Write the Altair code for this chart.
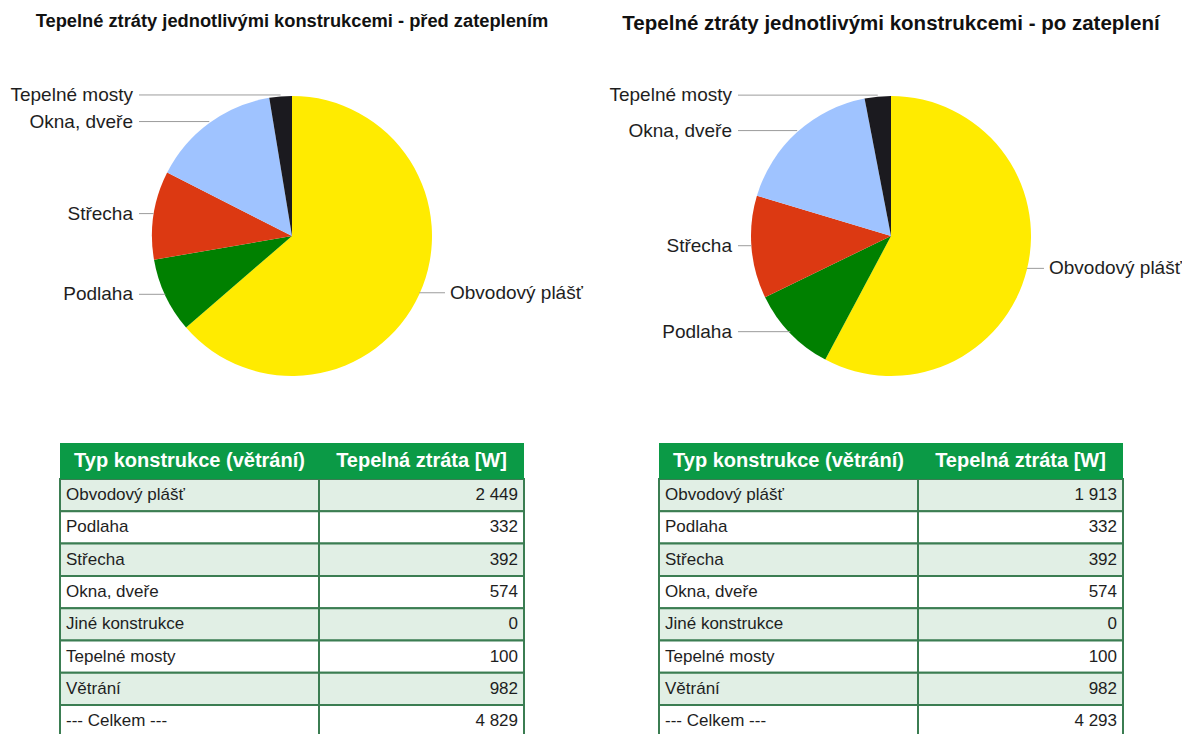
import altair as alt
import pandas as pd

# ---------------- data ----------------
title_before = "Tepelné ztráty jednotlivými konstrukcemi - před zateplením"
title_after = "Tepelné ztráty jednotlivými konstrukcemi - po zateplení"
header_labels = ["Typ konstrukce (větrání)", "Tepelná ztráta [W]"]
row_labels = ["Obvodový plášť", "Podlaha", "Střecha", "Okna, dveře",
              "Jiné konstrukce", "Tepelné mosty", "Větrání", "--- Celkem ---"]
loss_before = [2449, 332, 392, 574, 0, 100, 982, 4829]
loss_after = [1913, 332, 392, 574, 0, 100, 982, 4293]
pie_labels = ["Obvodový plášť", "Podlaha", "Střecha", "Okna, dveře", "Tepelné mosty"]
pie_colors = ["#ffeb00", "#008000", "#dc3912", "#9fc3ff", "#1b1a1f"]

# ---------------- layout / style ----------------
FONT = "Liberation Sans, Arial, sans-serif"
CX, CY, R = 292, 236, 140
PIE_H = 479
TX0, TXM, TX1 = 60, 319, 524
ROW_H = 32.3
HEADER_H = 36
HEADER_GREEN = "#0b9a46"
LIGHT = "#e1efe5"
BORDER = "#3b7d52"
TEXT = "#1e1e1e"


def panel(title, values, width, title_size, title_y):
    df_rows = pd.DataFrame({"label": row_labels, "value": values,
                            "idx": list(range(len(row_labels)))})
    df_pie = df_rows[df_rows["label"].isin(pie_labels)].copy()
    df_pie["order"] = [pie_labels.index(l) for l in df_pie["label"]]

    arc = alt.Chart(df_pie).mark_arc(outerRadius=R).encode(
        theta=alt.Theta("value:Q", stack=True),
        color=alt.Color("label:N", scale=alt.Scale(domain=pie_labels, range=pie_colors), legend=None),
        order=alt.Order("order:Q"),
        x=alt.value(CX), y=alt.value(CY),
    )

    base = alt.Chart(df_pie).transform_joinaggregate(
        total="sum(value)"
    ).transform_window(
        cum="sum(value)", sort=[alt.SortField("order")]
    ).transform_calculate(
        mid="(datum.cum - datum.value/2) / datum.total * 2 * PI",
        px=f"{CX} + {R} * sin(datum.mid)",
        py=f"{CY} - {R} * cos(datum.mid) - 1.5",
        right=f"datum.px > {CX} ? 1 : 0",
        lx=f"datum.right == 1 ? {CX + 153} : {CX - 153}",
    )

    rules = base.mark_rule(color="#9c9c9c", strokeWidth=1).encode(
        x=alt.X("px:Q", scale=None), x2="lx:Q", y=alt.Y("py:Q", scale=None)
    )
    lab_left = base.transform_filter("datum.right == 0").mark_text(
        align="right", baseline="middle", font=FONT, fontSize=19, color=TEXT
    ).encode(x=alt.value(CX - 159), y=alt.Y("py:Q", scale=None), text="label:N")
    lab_right = base.transform_filter("datum.right == 1").mark_text(
        align="left", baseline="middle", font=FONT, fontSize=19, color=TEXT
    ).encode(x=alt.value(CX + 158), y=alt.Y("py:Q", scale=None), text="label:N")

    title_mark = alt.Chart(pd.DataFrame({"t": [title]})).mark_text(
        align="center", baseline="middle", font=FONT, fontSize=title_size,
        fontWeight="bold", color="#111111"
    ).encode(x=alt.value(CX), y=alt.value(title_y), text="t:N")

    pie = alt.layer(arc, rules, lab_left, lab_right, title_mark).properties(
        width=width, height=PIE_H)

    # ---------- table ----------
    tbase = alt.Chart(df_rows).transform_calculate(
        stripe="datum.idx % 2 == 0 ? 'a' : 'b'",
        txt="replace(format(datum.value, ','), ',', ' ')",
    )
    yenc = alt.Y("label:N", scale=alt.Scale(domain=row_labels, paddingInner=0, paddingOuter=0),
                 axis=None)
    fill = alt.Fill("stripe:N", scale=alt.Scale(domain=["a", "b"], range=[LIGHT, "#ffffff"]),
                    legend=None)
    cell1 = tbase.mark_rect(stroke=BORDER, strokeWidth=2).encode(
        x=alt.value(TX0), x2=alt.value(TXM), y=yenc, fill=fill)
    cell2 = tbase.mark_rect(stroke=BORDER, strokeWidth=2).encode(
        x=alt.value(TXM), x2=alt.value(TX1), y=yenc, fill=fill)
    txt1 = tbase.mark_text(align="left", baseline="middle", font=FONT, fontSize=17,
                           color=TEXT).encode(x=alt.value(TX0 + 6), y=yenc, text="label:N")
    txt2 = tbase.mark_text(align="right", baseline="middle", font=FONT, fontSize=17,
                           color=TEXT).encode(x=alt.value(TX1 - 6), y=yenc, text="txt:N")

    hdr = alt.Chart(pd.DataFrame({"h": header_labels[:1]})).mark_rect(fill=HEADER_GREEN).encode(
        x=alt.value(TX0), x2=alt.value(TX1), y=alt.value(-HEADER_H), y2=alt.value(0))
    h1 = alt.Chart(pd.DataFrame({"h": [header_labels[0]]})).mark_text(
        align="center", baseline="middle", font=FONT, fontSize=20, fontWeight="bold", color="white"
    ).encode(x=alt.value((TX0 + TXM) / 2), y=alt.value(-HEADER_H / 2), text="h:N")
    h2 = alt.Chart(pd.DataFrame({"h": [header_labels[1]]})).mark_text(
        align="center", baseline="middle", font=FONT, fontSize=20, fontWeight="bold", color="white"
    ).encode(x=alt.value((TXM + TX1) / 2), y=alt.value(-HEADER_H / 2), text="h:N")

    table = alt.layer(cell1, cell2, txt1, txt2, hdr, h1, h2).properties(
        width=width, height=ROW_H * len(row_labels))

    return alt.vconcat(pie, table, spacing=0, bounds="flush")


left = panel(title_before, loss_before, 599, 18.3, 22)
right = panel(title_after, loss_after, 583, 20.5, 24)

chart = alt.hconcat(left, right, spacing=0).properties(
    padding=0, background="white"
).configure_view(stroke=None)

chart.save("out.html", embed_options={"renderer": "svg", "actions": False})
